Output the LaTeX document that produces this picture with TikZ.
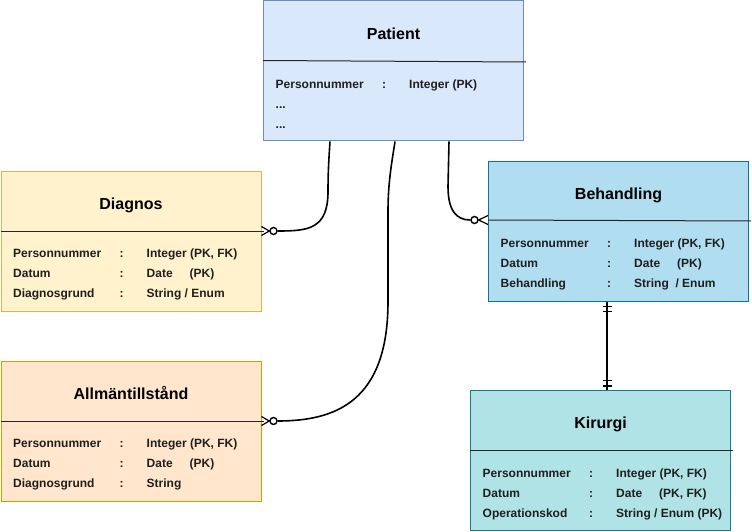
\documentclass[tikz,border=0pt]{standalone}
\usepackage{fontspec}
\setmainfont{Liberation Sans}
\usepackage{tikz}
\usetikzlibrary{calc,positioning}

\definecolor{patientfill}{HTML}{DAE8FC}
\definecolor{patientline}{HTML}{6C8EBF}
\definecolor{diagnosfill}{HTML}{FFF2CC}
\definecolor{diagnosline}{HTML}{D6B656}
\definecolor{allmanfill}{HTML}{FFE6CC}
\definecolor{allmanline}{HTML}{D79B00}
\definecolor{behandlingfill}{HTML}{B1DDF0}
\definecolor{behandlingline}{HTML}{10739E}
\definecolor{kirurgifill}{HTML}{B0E3E6}
\definecolor{kirurgiline}{HTML}{0E8088}

\begin{document}
\begin{tikzpicture}[x=1pt,y=-1pt,
  entity/.style={draw,line width=1pt,minimum width=260pt,minimum height=140pt,anchor=north west,inner sep=0pt},
  title/.style={font=\fontsize{16}{19}\selectfont\bfseries,text height=11.5pt,text depth=0pt,inner sep=0pt},
  field/.style={font=\fontsize{12}{14}\selectfont\bfseries,text=black!88,anchor=west,inner sep=0pt,text height=8.6pt,text depth=0pt},
  sep/.style={line width=1pt,black!85},
  rel/.style={line width=1.6pt},
  toe/.style={line width=1.2pt},
  zero/.style={circle,draw,fill=white,line width=1.4pt,minimum size=7pt,inner sep=0pt}]
\useasboundingbox (0,0) rectangle (752,532);

% entities
\node[entity,fill=patientfill,draw=patientline] (patient) at (263,0.5) {};
\node[entity,fill=diagnosfill,draw=diagnosline] (diagnos) at (0.5,170.5) {};
\node[entity,fill=behandlingfill,draw=behandlingline] (behandling) at (488,160.5) {};
\node[entity,fill=allmanfill,draw=allmanline] (allman) at (0.5,360.5) {};
\node[entity,fill=kirurgifill,draw=kirurgiline] (kirurgi) at (470,390) {};

\node[title] (patient-title) at ($(patient.north)+(0,33)$) {Patient};
\node[title] (diagnos-title) at ($(diagnos.north)+(0,33)$) {Diagnos};
\node[title] (behandling-title) at ($(behandling.north)+(0,33)$) {Behandling};
\node[title] (allman-title) at ($(allman.north)+(0,33)$) {Allmäntillstånd};
\node[title] (kirurgi-title) at ($(kirurgi.north)+(0,33)$) {Kirurgi};

\draw[sep] ($(patient.north west)+(0,60)$) -- ($(patient.north east)+(2,61.5)$);
\draw[sep] ($(diagnos.north west)+(0,60.5)$) -- ($(diagnos.north east)+(2,60.5)$);
\draw[sep] ($(behandling.north west)+(0,59.5)$) -- ($(behandling.north east)+(2,60.5)$);
\draw[sep] ($(allman.north west)+(0,60.5)$) -- ($(allman.north east)+(2,60.5)$);
\draw[sep] ($(kirurgi.north west)+(0,60)$) -- ($(kirurgi.north east)+(2,60)$);

% attributes
\node[field] (patient-n1) at ($(patient.north west)+(12.5,83.5)$) {Personnummer};
\node[field] (patient-c1) at ($(patient.north west)+(119,83.5)$) {:};
\node[field] (patient-t1) at ($(patient.north west)+(146,83.5)$) {Integer (PK)};
\node[field] (patient-n2) at ($(patient.north west)+(12.5,103.5)$) {...};
\node[field] (patient-n3) at ($(patient.north west)+(12.5,124)$) {...};

\foreach \fname/\ftype [count=\i] in {Personnummer/{Integer (PK, FK)},Datum/{\makebox[43pt][l]{Date}(PK)},Diagnosgrund/{String / Enum}}{
  \node[field] (diagnos-n\i) at ($(diagnos.north west)+(12.5,62.5+20*\i)$) {\fname};
  \node[field] (diagnos-c\i) at ($(diagnos.north west)+(119,62.5+20*\i)$) {:};
  \node[field] (diagnos-t\i) at ($(diagnos.north west)+(146,62.5+20*\i)$) {\ftype};
}
\foreach \fname/\ftype [count=\i] in {Personnummer/{Integer (PK, FK)},Datum/{\makebox[43pt][l]{Date}(PK)},Behandling/{String\ \ / Enum}}{
  \node[field] (behandling-n\i) at ($(behandling.north west)+(12.5,62.5+20*\i)$) {\fname};
  \node[field] (behandling-c\i) at ($(behandling.north west)+(119,62.5+20*\i)$) {:};
  \node[field] (behandling-t\i) at ($(behandling.north west)+(146,62.5+20*\i)$) {\ftype};
}
\foreach \fname/\ftype [count=\i] in {Personnummer/{Integer (PK, FK)},Datum/{\makebox[43pt][l]{Date}(PK)},Diagnosgrund/{String}}{
  \node[field] (allman-n\i) at ($(allman.north west)+(12.5,62.5+20*\i)$) {\fname};
  \node[field] (allman-c\i) at ($(allman.north west)+(119,62.5+20*\i)$) {:};
  \node[field] (allman-t\i) at ($(allman.north west)+(146,62.5+20*\i)$) {\ftype};
}
\foreach \fname/\ftype [count=\i] in {Personnummer/{Integer (PK, FK)},Datum/{\makebox[43pt][l]{Date}(PK, FK)},Operationskod/{String / Enum (PK)}}{
  \node[field] (kirurgi-n\i) at ($(kirurgi.north west)+(12.5,63+20*\i)$) {\fname};
  \node[field] (kirurgi-c\i) at ($(kirurgi.north west)+(119,63+20*\i)$) {:};
  \node[field] (kirurgi-t\i) at ($(kirurgi.north west)+(146,63+20*\i)$) {\ftype};
}

% relations
\coordinate (p1) at ($(patient.south west)+(67,0)$);
\coordinate (p2) at ($(patient.south west)+(132,0)$);
\coordinate (p3) at ($(patient.south west)+(186,0)$);
\node[zero] (dz) at ($(diagnos.north east)+(12,60.5)$) {};
\node[zero] (az) at ($(allman.north east)+(12,60.5)$) {};
\node[zero] (bz) at ($(behandling.north west)+(-13.5,59.5)$) {};

\draw[rel] (p1) .. controls +(-1,15) and +(0,-20) .. ($(p1)+(-2,50)$) .. controls +(0,38) and +(30,0) .. (dz.east);
\draw[rel] (p2) .. controls +(-3,20) and +(0,-30) .. ($(p2)+(-7,70)$) -- ($(p2)+(-7,160)$) .. controls +(0,100) and +(58,0) .. (az.east);
\draw[rel] (p3) -- ($(p3)+(-1,45)$) .. controls +(0,24) and +(-14,0) .. (bz.west);

\draw[toe] ($(diagnos.north east)+(0,56)$) -- (dz.west) -- ($(diagnos.north east)+(0,65)$);
\draw[toe] ($(allman.north east)+(0,56)$) -- (az.west) -- ($(allman.north east)+(0,65)$);
\draw[toe] ($(behandling.north west)+(0,55)$) -- (bz.east) -- ($(behandling.north west)+(0,64)$);

\coordinate (bs) at ($(behandling.south west)+(119,0)$);
\coordinate (ks) at ($(kirurgi.north west)+(137,0)$);
\draw[rel] (bs) -- (ks);
\draw[rel] ($(bs)+(-4.5,5)$) -- ++(9,0);
\draw[rel] ($(bs)+(-4.5,10)$) -- ++(9,0);
\draw[rel] ($(ks)+(-4.5,-4)$) -- ++(9,0);
\draw[rel] ($(ks)+(-4.5,-9.5)$) -- ++(9,0);
\end{tikzpicture}
\end{document}
